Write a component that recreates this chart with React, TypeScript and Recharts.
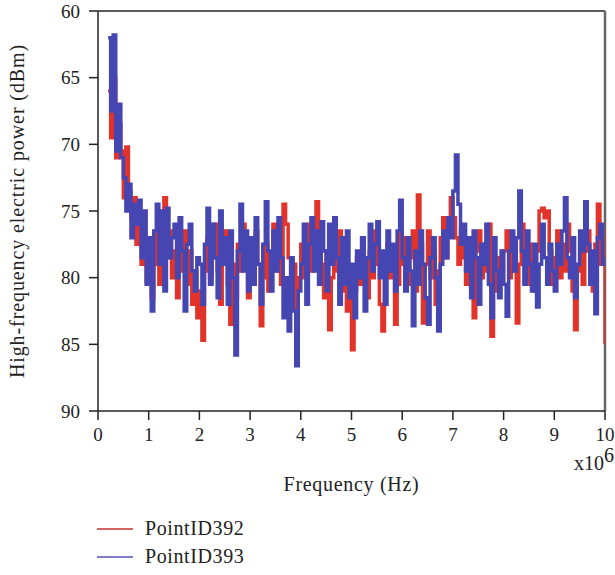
import React from "react";
import {
  LineChart,
  Line,
  XAxis,
  YAxis,
  ReferenceLine,
  Label,
} from "recharts";

// frequency grid in MHz (x10^6 Hz), sampled every 0.05 from 0.2 to 10
const FREQ_START = 0.2;
const FREQ_STEP = 0.05;

// PointID392 (red), dBm
const point392 = [
  66.0, 69.5, 65.0, 71.0, 68.5, 70.5, 74.0, 70.2, 73.5, 75.5, 74.0, 77.5, 76.0, 79.0, 77.0, 80.3,
  78.0, 81.5, 79.0, 76.5, 80.5, 77.0, 74.0, 78.5, 76.5, 80.0, 78.0, 81.5, 77.0, 79.5, 76.5, 80.5, 78.0, 82.0, 79.5, 83.0,
  81.0, 84.7, 79.5, 77.0, 80.0, 78.5, 76.0, 79.5, 82.0, 78.0, 76.5, 80.5, 83.5, 79.0, 81.5, 77.5, 79.5, 76.0, 78.5, 81.5,
  78.0, 80.5, 76.5, 79.0, 83.6, 80.0, 77.5, 81.0, 78.5, 76.0, 79.5, 77.0, 80.5, 74.5, 76.0, 78.5, 82.0, 79.0, 84.0, 80.0,
  77.5, 80.0, 78.0, 76.0, 79.5, 77.5, 74.3, 76.5, 79.0, 81.5, 78.0, 83.9, 80.0, 77.5, 79.5, 76.5, 81.0, 78.5, 82.5, 80.0,
  85.4, 81.0, 78.5, 80.5, 77.0, 79.5, 81.5, 78.0, 80.0, 76.5, 79.0, 82.0, 84.0, 79.5, 77.5, 80.0, 78.5, 83.5, 80.5, 76.5,
  79.0, 77.0, 80.5, 78.5, 76.5, 81.0, 73.8, 77.5, 83.4, 79.0, 76.5, 80.0, 78.0, 82.0, 79.5, 77.0, 75.5, 78.5, 76.0, 74.0,
  75.5, 77.0, 79.0, 76.5, 78.5, 80.5, 77.5, 79.0, 83.0, 78.0, 76.5, 80.0, 77.5, 79.5, 76.0, 84.4, 79.0, 81.0, 78.5, 80.5,
  78.0, 76.5, 80.0, 77.5, 79.5, 83.4, 79.0, 76.0, 78.5, 80.5, 77.5, 79.0, 81.0, 78.0, 75.0, 74.8, 75.5, 75.0, 78.0, 80.5,
  78.5, 76.5, 80.0, 77.5, 79.5, 76.0, 78.0, 81.0, 83.9, 79.5, 77.0, 80.5, 78.0, 76.5, 79.5, 81.0, 77.5, 74.5, 79.0, 76.5,
  85.0,
];

// PointID393 (blue), dBm
const point393 = [
  62.0, 67.5, 61.8, 70.5, 67.0, 71.0, 72.5, 75.0, 73.0, 77.0, 74.5, 76.0, 74.2, 78.5, 75.0, 80.5,
  77.0, 82.5, 76.5, 74.5, 79.0, 75.0, 81.0, 74.8, 78.5, 77.0, 76.0, 80.0, 75.5, 78.0, 82.5, 77.5, 76.0, 79.5, 81.0, 78.5,
  79.0, 82.0, 77.5, 74.8, 80.5, 76.0, 78.5, 81.5, 75.0, 79.0, 77.0, 82.0, 76.5, 80.0, 85.8, 78.0, 74.5, 79.5, 76.5, 81.0,
  77.0, 80.5, 75.5, 79.0, 82.0, 77.5, 74.3, 78.0, 81.0, 76.5, 79.5, 75.5, 78.5, 83.0, 80.0, 84.0, 78.5, 82.5, 86.6, 81.0,
  79.0, 76.0, 82.0, 77.5, 75.5, 79.5, 76.5, 80.5, 75.8, 78.0, 81.0, 76.0, 79.0, 75.5, 78.5, 82.0, 77.0, 80.5, 76.5, 81.5,
  79.0, 83.0, 78.0, 80.0, 77.0, 82.5, 78.5, 76.0, 79.5, 77.5, 75.8, 80.0, 78.0, 82.0, 76.5, 79.5, 77.5, 81.0, 76.5, 74.2,
  78.5, 81.0, 77.0, 79.5, 83.6, 78.0, 80.5, 76.5, 79.0, 81.5, 83.5, 78.5, 77.0, 80.0, 84.0, 79.0, 76.5, 78.5, 75.5, 77.0,
  73.5, 70.8, 74.5, 77.5, 76.0, 79.5, 77.0, 81.5, 76.5, 78.5, 82.0, 77.5, 79.0, 76.0, 80.5, 83.0, 77.0, 79.5, 81.5, 78.0,
  80.5, 82.9, 78.0, 76.5, 79.5, 77.0, 73.5, 78.0, 80.5, 76.5, 79.0, 81.0, 77.5, 82.2, 79.0, 76.0, 78.5, 80.5, 77.5, 79.5,
  81.0, 77.5, 79.0, 76.5, 74.0, 78.5, 80.0, 77.0, 81.5, 79.0, 76.5, 78.0, 74.3, 77.5, 80.5, 78.0, 82.7, 77.0, 76.0, 79.0,
  78.5,
];

const xTicks = [0, 1, 2, 3, 4, 5, 6, 7, 8, 9, 10];
const yTicks = [60, 65, 70, 75, 80, 85, 90];

const RED = "#e2332a";
const BLUE = "#4646b2";
const FONT = "Liberation Serif";

const data = point392.map((v, i) => ({
  freq: Number((FREQ_START + i * FREQ_STEP).toFixed(2)),
  p392: v,
  p393: point393[i],
}));

const tickStyle = { fontSize: 19, fontFamily: FONT, fill: "#222" };

function YTitle({ viewBox }: any) {
  const cy = viewBox.y + viewBox.height / 2;
  return (
    <text
      transform={`translate(24, ${cy}) rotate(-90)`}
      textAnchor="middle"
      style={{ fontSize: 20, fontFamily: FONT, fill: "#222", letterSpacing: 0.9 }}
    >
      High-frequency electric power (dBm)
    </text>
  );
}

function XTitle({ viewBox }: any) {
  const cx = viewBox.x + viewBox.width / 2;
  const right = viewBox.x + viewBox.width;
  return (
    <g style={{ fontSize: 20, fontFamily: FONT, fill: "#222" }}>
      <text x={right + 9} y={viewBox.y + 59} textAnchor="end">
        x10
        <tspan dy={-8}>6</tspan>
      </text>
      <text x={cx} y={viewBox.y + 80} textAnchor="middle" style={{ letterSpacing: 0.7 }}>
        Frequency (Hz)
      </text>
    </g>
  );
}

const legendItems = [
  { name: "PointID392", color: "#c8302c" },
  { name: "PointID393", color: "#5050b4" },
];

export default function App() {
  return (
    <div
      style={{
        position: "absolute",
        left: 0,
        top: 0,
        width: 615,
        height: 575,
        background: "#fff",
        fontFamily: FONT,
      }}
    >
      <LineChart
        width={615}
        height={500}
        data={data}
        margin={{ top: 11, right: 10, left: 0, bottom: 0 }}
      >
        <XAxis
          dataKey="freq"
          type="number"
          domain={[0, 10]}
          ticks={xTicks}
          interval={0}
          height={89}
          tickSize={9}
          tickMargin={8}
          tick={tickStyle}
          stroke="#222"
          strokeWidth={1.5}
          tickLine={{ stroke: "#222", strokeWidth: 1.5 }}
          allowDataOverflow
        >
          <Label content={XTitle} />
        </XAxis>
        <YAxis
          type="number"
          domain={[60, 90]}
          reversed
          ticks={yTicks}
          interval={0}
          width={98}
          tickSize={9}
          tickMargin={9}
          tick={tickStyle}
          stroke="#222"
          strokeWidth={1.5}
          tickLine={{ stroke: "#222", strokeWidth: 1.5 }}
          allowDataOverflow
        >
          <Label content={YTitle} />
        </YAxis>
        <ReferenceLine y={60} stroke="#222" strokeWidth={1.5} />
        <ReferenceLine x={10} stroke="#666" strokeWidth={2.5} />
        <Line
          type="stepAfter"
          dataKey="p392"
          stroke={RED}
          strokeWidth={3.5}
          dot={false}
          isAnimationActive={false}
        />
        <Line
          type="stepAfter"
          dataKey="p393"
          stroke={BLUE}
          strokeWidth={3.5}
          dot={false}
          isAnimationActive={false}
        />
      </LineChart>
      {legendItems.map((item, i) => (
        <div
          key={item.name}
          style={{
            position: "absolute",
            left: 97,
            top: 517 + i * 28,
            display: "flex",
            alignItems: "center",
            fontSize: 20,
            letterSpacing: 0.6,
            color: "#222",
          }}
        >
          <svg width={36} height={4} style={{ marginRight: 12 }}>
            <line x1={0} y1={2} x2={36} y2={2} stroke={item.color} strokeWidth={1.5} />
          </svg>
          {item.name}
        </div>
      ))}
    </div>
  );
}
